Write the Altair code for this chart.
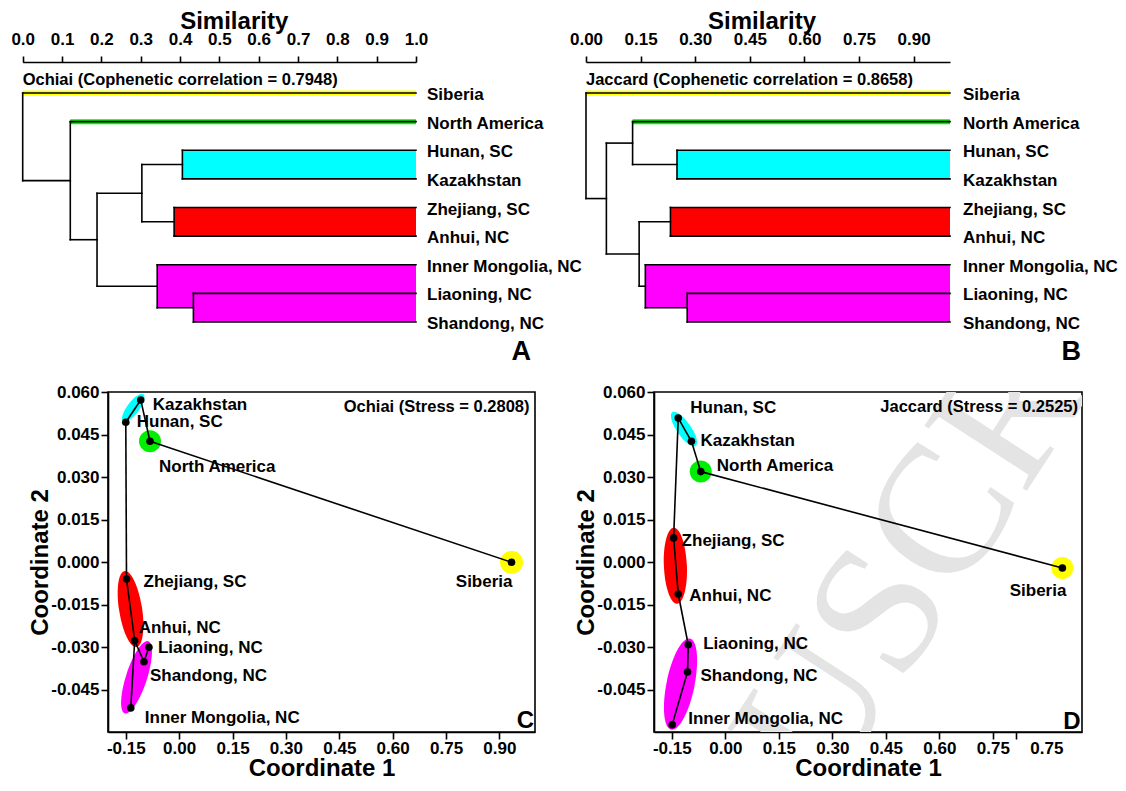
import altair as alt
import pandas as pd

SANS = "Liberation Sans, Arial, sans-serif"
SERIF = "Liberation Serif, Times New Roman, serif"

leaves = ["Siberia", "North America", "Hunan, SC", "Kazakhstan", "Zhejiang, SC",
          "Anhui, NC", "Inner Mongolia, NC", "Liaoning, NC", "Shandong, NC"]

# ---------------- dendrogram merges (similarity levels) ----------------
ochiai_node = ["HK", "ZA", "LS", "IMLS", "HKZA", "CORE", "NAC", "ROOT"]
ochiai_left = ["Hunan, SC", "Zhejiang, SC", "Liaoning, NC", "Inner Mongolia, NC", "HK", "HKZA", "North America", "Siberia"]
ochiai_right = ["Kazakhstan", "Anhui, NC", "Shandong, NC", "LS", "ZA", "IMLS", "CORE", "NAC"]
ochiai_sim = [0.406, 0.385, 0.434, 0.342, 0.303, 0.189, 0.121, 0.0]

jaccard_node = ["HK", "ZA", "LS", "IMLS", "NAHK", "SOUTH", "REST", "ROOT"]
jaccard_left = ["Hunan, SC", "Zhejiang, SC", "Liaoning, NC", "Inner Mongolia, NC", "North America", "ZA", "NAHK", "Siberia"]
jaccard_right = ["Kazakhstan", "Anhui, NC", "Shandong, NC", "LS", "HK", "IMLS", "SOUTH", "REST"]
jaccard_sim = [0.250, 0.232, 0.278, 0.163, 0.128, 0.146, 0.056, 0.0]

cluster_nodes = ["Siberia", "North America", "HK", "ZA", "IMLS"]
cluster_colors = ["#FFFF00", "#00EE00", "#00FFFF", "#FF0000", "#FF00FF"]

ochiai_ticks = [0.0, 0.1, 0.2, 0.3, 0.4, 0.5, 0.6, 0.7, 0.8, 0.9, 1.0]
jaccard_ticks = [0.0, 0.15, 0.30, 0.45, 0.60, 0.75, 0.90]

# ---------------- MDS coordinates (leaf order) ----------------
ochiai_c1 = [0.934, -0.082, -0.150, -0.108, -0.148, -0.125, -0.136, -0.085, -0.099]
ochiai_c2 = [-0.0001, 0.0426, 0.0493, 0.0572, -0.0060, -0.0278, -0.0515, -0.0301, -0.0352]
jaccard_c1 = [0.945, -0.069, -0.132, -0.095, -0.145, -0.132, -0.149, -0.104, -0.106]
jaccard_c2 = [-0.0021, 0.0319, 0.0508, 0.0426, 0.0085, -0.0113, -0.0574, -0.0292, -0.0388]

ochiai_edges = [("Hunan, SC", "Kazakhstan"), ("Kazakhstan", "North America"), ("North America", "Siberia"),
                ("Hunan, SC", "Zhejiang, SC"), ("Zhejiang, SC", "Anhui, NC"), ("Anhui, NC", "Shandong, NC"),
                ("Shandong, NC", "Liaoning, NC"), ("Anhui, NC", "Inner Mongolia, NC")]
jaccard_edges = [("Hunan, SC", "Kazakhstan"), ("Kazakhstan", "North America"), ("North America", "Siberia"),
                 ("Hunan, SC", "Zhejiang, SC"), ("Zhejiang, SC", "Anhui, NC"), ("Anhui, NC", "Liaoning, NC"),
                 ("Liaoning, NC", "Shandong, NC"), ("Shandong, NC", "Inner Mongolia, NC")]

# group ellipse centres (data coords)
ell_colors = ["#00FFFF", "#00EE00", "#FFFF00", "#FF0000", "#FF00FF"]
ochiai_ell_x = [-0.129, -0.082, 0.934, -0.1365, -0.1197]
ochiai_ell_y = [0.0544, 0.0426, -0.0001, -0.0166, -0.0407]
jaccard_ell_x = [-0.116, -0.069, 0.945, -0.140, -0.1255]
jaccard_ell_y = [0.0469, 0.0319, -0.0021, -0.0013, -0.0431]

c_tick_vals = [-0.15, 0.0, 0.15, 0.30, 0.45, 0.60, 0.75, 0.90]
c_tick_text = ["-0.15", "0.00", "0.15", "0.30", "0.45", "0.60", "0.75", "0.90"]
d_tick_vals = [-0.15, 0.0, 0.15, 0.30, 0.45, 0.60, 0.75, 0.816, 0.90]
d_tick_text = ["-0.15", "0.00", "0.15", "0.30", "0.45", "0.60", "0.75", "", "0.75"]
d_tick_mark = [1, 1, 1, 1, 1, 1, 1, 1, 0]
y_tick_vals = [0.060, 0.045, 0.030, 0.015, 0.0, -0.015, -0.030, -0.045]
y_tick_text = ["0.060", "0.045", "0.030", "0.015", "0.000", "-0.015", "-0.030", "-0.045"]

watermark_text = "MANUSCRIPT"

# ---------------- styles ----------------
LAB_SIZE = 17
TICK_SIZE = 17
C_ELL = dict(length=[34, 22, 23, 77, 76], width=[12, 22, 23, 23, 21], angle=[127, 0, 0, 81, 108])
D_ELL = dict(length=[41, 22, 22, 76, 93], width=[14, 22, 22, 23, 28], angle=[55, 0, 0, 87.5, 101.6])
C_LAB = {"Siberia": ("right", 1, 20), "North America": ("left", 9, 26), "Hunan, SC": ("left", 11, 0),
         "Kazakhstan": ("left", 12, 5), "Zhejiang, SC": ("left", 17, 3), "Anhui, NC": ("left", 4, -13),
         "Inner Mongolia, NC": ("left", 14, 10), "Liaoning, NC": ("left", 9, 1), "Shandong, NC": ("left", 6, 14)}
D_LAB = {"Siberia": ("right", 4, 23), "North America": ("left", 16, -6), "Hunan, SC": ("left", 12, -10),
         "Kazakhstan": ("left", 9, 0), "Zhejiang, SC": ("left", 8, 3), "Anhui, NC": ("left", 11, 2),
         "Inner Mongolia, NC": ("left", 16, -6), "Liaoning, NC": ("left", 15, -1), "Shandong, NC": ("left", 13, 4)}

dummy = pd.DataFrame({"d": [0]})


def spacer(x0, y0, y1):
    return alt.Chart(dummy).mark_rect(opacity=0).encode(
        x=alt.value(x0), x2=alt.value(0), y=alt.value(y0), y2=alt.value(y1))


def dendro_frames(node, left, right, sim):
    pos = {n: (float(i), 1.0) for i, n in enumerate(leaves)}
    kids = {}
    parent = {}
    segs = []
    for n, l, r, s in zip(node, left, right, sim):
        yl, xl = pos[l]
        yr, xr = pos[r]
        segs += [dict(x=s, x2=s, y=yl, y2=yr), dict(x=s, x2=xl, y=yl, y2=yl), dict(x=s, x2=xr, y=yr, y2=yr)]
        pos[n] = ((yl + yr) / 2, s)
        kids[n] = (l, r)
        parent[l] = s
        parent[r] = s

    def internal(n):
        if n not in kids:
            return []
        return [n] + internal(kids[n][0]) + internal(kids[n][1])

    rects, bands = [], []
    for cn, col in zip(cluster_nodes, cluster_colors):
        if cn in leaves:
            bands.append(dict(x=parent[cn], x2=1.0, y=pos[cn][0], col=col))
        else:
            for m in internal(cn):
                l, r = kids[m]
                rects.append(dict(x=pos[m][1], x2=1.0, y=pos[l][0], y2=pos[r][0], col=col))
    return pd.DataFrame(segs), pd.DataFrame(rects), pd.DataFrame(bands)


def dendro_chart(node, left, right, sim, ticks, fmt, width, xrange, title_x, note, letter, letter_x,
                 label_dx, extra=None):
    segs, rects, bands = dendro_frames(node, left, right, sim)
    xsc = alt.Scale(domain=[0, 1], range=xrange, nice=False, zero=False)
    ysc = alt.Scale(domain=[-1.083, 8.419], reverse=True, nice=False, zero=False)
    ax = alt.Axis(orient="top", values=ticks, format=fmt, title="Similarity", tickSize=6, labelPadding=8,
                  titleX=title_x, titleY=-33.5, titleBaseline="alphabetic", titleAlign="center", titleAngle=0)

    def X(f):
        return alt.X(f + ":Q", scale=xsc, axis=ax)

    def Y(f):
        return alt.Y(f + ":Q", scale=ysc, axis=None)

    rect = alt.Chart(rects).mark_rect().encode(x=X("x"), x2="x2:Q", y=Y("y"), y2="y2:Q",
                                               color=alt.Color("col:N", scale=None))
    band = alt.Chart(bands).mark_rule(strokeWidth=5).encode(x=X("x"), x2="x2:Q", y=Y("y"),
                                                            color=alt.Color("col:N", scale=None))
    seg = alt.Chart(segs).mark_rule(color="black", strokeWidth=1.6, strokeCap="square").encode(
        x=X("x"), x2="x2:Q", y=Y("y"), y2="y2:Q")
    lab = alt.Chart(pd.DataFrame({"name": leaves, "y": list(range(len(leaves))), "x": [1.0] * len(leaves)})).mark_text(
        align="left", baseline="middle", dx=label_dx, dy=2, font=SANS, fontSize=LAB_SIZE, fontWeight="bold",
        color="black").encode(x=X("x"), y=Y("y"), text="name:N")
    note_l = alt.Chart(dummy).mark_text(text=note, align="left", baseline="middle", font=SANS, fontSize=16.5,
                                        fontWeight="bold", color="black").encode(x=alt.value(xrange[0]), y=alt.value(18))
    let_l = alt.Chart(dummy).mark_text(text=letter, align="right", baseline="alphabetic", font=SANS, fontSize=27,
                                       fontWeight="bold", color="black").encode(x=alt.value(letter_x), y=alt.value(298))
    layers = [rect, band, seg, lab, note_l, let_l]
    if extra is not None:
        layers.append(extra)
    return alt.layer(*layers).properties(width=width, height=272)


def ellipse_path(ratio):
    k = 0.5523
    r = ratio
    return (f"M 1 0 C 1 {k*r:.4f} {k:.4f} {r:.4f} 0 {r:.4f} "
            f"C {-k:.4f} {r:.4f} -1 {k*r:.4f} -1 0 "
            f"C -1 {-k*r:.4f} {-k:.4f} {-r:.4f} 0 {-r:.4f} "
            f"C {k:.4f} {-r:.4f} 1 {-k*r:.4f} 1 0 Z")


def lookup_expr(vals, texts):
    return "".join(f"abs(datum.value - ({v})) < 1e-6 ? '{t}' : " for v, t in zip(vals, texts)) + "''"


def mds_chart(c1, c2, edges, ex, ey, est, lab_style, note, note_x, letter, letter_x, letter_y,
              tvals, ttext, tmark, width, extra=None, under=None):
    xy = dict(zip(leaves, zip(c1, c2)))
    pts = pd.DataFrame({"name": leaves, "x": c1, "y": c2})
    segs = pd.DataFrame([dict(x=xy[a][0], y=xy[a][1], x2=xy[b][0], y2=xy[b][1]) for a, b in edges])
    ell = pd.DataFrame({"x": ex, "y": ey, "col": ell_colors,
                        "shape": [ellipse_path(w / l) for l, w in zip(est["length"], est["width"])],
                        "sz": [l * l for l in est["length"]], "ang": est["angle"]})
    xkw = dict(values=tvals, labelExpr=lookup_expr(tvals, ttext), title="Coordinate 1", tickSize=7,
               labelPadding=1, titleX=width / 2, titleY=43, titleBaseline="alphabetic", titleAlign="center")
    hidden = [v for v, m in zip(tvals, tmark) if not m]
    if hidden:
        test = " || ".join(f"abs(datum.value - ({v})) < 1e-6" for v in hidden)
        xkw["tickOpacity"] = {"condition": {"test": test, "value": 0}, "value": 1}
    xax = alt.Axis(**xkw)
    yax = alt.Axis(values=y_tick_vals, labelExpr=lookup_expr(y_tick_vals, y_tick_text), title="Coordinate 2",
                   tickSize=7, labelPadding=2, titleX=-67.5, titleY=170, titleAngle=270,
                   titleBaseline="middle", titleAlign="center")
    xsc = alt.Scale(domain=[-0.2, 1.0], nice=False, zero=False)
    ysc = alt.Scale(domain=[-0.06, 0.06], nice=False, zero=False)

    def X(f):
        return alt.X(f + ":Q", scale=xsc, axis=xax)

    def Y(f):
        return alt.Y(f + ":Q", scale=ysc, axis=yax)

    e_l = alt.Chart(ell).mark_point(filled=True, opacity=1, strokeWidth=0).encode(
        x=X("x"), y=Y("y"), shape=alt.Shape("shape:N", scale=None), size=alt.Size("sz:Q", scale=None),
        angle=alt.Angle("ang:Q", scale=None), color=alt.Color("col:N", scale=None))
    s_l = alt.Chart(segs).mark_rule(color="black", strokeWidth=1.6).encode(x=X("x"), y=Y("y"), x2="x2:Q", y2="y2:Q")
    p_l = alt.Chart(pts).mark_circle(size=58, color="black", opacity=1).encode(x=X("x"), y=Y("y"))
    layers = ([under] if under is not None else []) + [e_l, s_l, p_l]
    for name in leaves:
        al, dx, dy = lab_style[name]
        layers.append(alt.Chart(pts).transform_filter(alt.datum.name == name).mark_text(
            align=al, baseline="middle", dx=dx, dy=dy, font=SANS, fontSize=LAB_SIZE, fontWeight="bold",
            color="black").encode(x=X("x"), y=Y("y"), text="name:N"))
    layers.append(alt.Chart(dummy).mark_text(text=note, align="right", baseline="middle", font=SANS, fontSize=16.5,
                                             fontWeight="bold", color="black").encode(x=alt.value(note_x), y=alt.value(15)))
    layers.append(alt.Chart(dummy).mark_text(text=letter, align="right", baseline="alphabetic", font=SANS,
                                             fontSize=24, fontWeight="bold", color="black").encode(
        x=alt.value(letter_x), y=alt.value(letter_y)))
    if extra is not None:
        layers.append(extra)
    return alt.layer(*layers).properties(
        width=width, height=340,
        view=alt.ViewBackground(stroke="black", strokeWidth=1.6, strokeOpacity=1))


watermark = alt.Chart(dummy).mark_text(
    text=watermark_text, align="left", baseline="alphabetic", font=SERIF, fontSize=185, angle=303,
    color="#e4e4e4", clip=True).encode(x=alt.value(-62), y=alt.value(768))

chart_a = dendro_chart(ochiai_node, ochiai_left, ochiai_right, ochiai_sim, ochiai_ticks, ".1f", 308, [-85.3, 308],
                       125.7, "Ochiai (Cophenetic correlation = 0.7948)", "A", 423, 11,
                       extra=spacer(-90, -54, 306))
chart_b = dendro_chart(jaccard_node, jaccard_left, jaccard_right, jaccard_sim, jaccard_ticks, ".2f", 364, [0, 364],
                       175.6, "Jaccard (Cophenetic correlation = 0.8658)", "B", 495, 13)
chart_c = mds_chart(ochiai_c1, ochiai_c2, ochiai_edges, ochiai_ell_x, ochiai_ell_y, C_ELL, C_LAB,
                    "Ochiai (Stress = 0.2808)", 421.5, "C", 426, 336, c_tick_vals, c_tick_text,
                    [1] * len(c_tick_vals), 427, extra=spacer(-99, -15, 0))
chart_d = mds_chart(jaccard_c1, jaccard_c2, jaccard_edges, jaccard_ell_x, jaccard_ell_y, D_ELL, D_LAB,
                    "Jaccard (Stress = 0.2525)", 424, "D", 426.5, 337, d_tick_vals, d_tick_text,
                    d_tick_mark, 428, under=watermark)

top = alt.hconcat(chart_a, chart_b, spacing=170, bounds="flush")
bottom = alt.hconcat(chart_c, chart_d, spacing=119, bounds="flush")

chart = alt.vconcat(top, bottom, spacing=8).properties(
    padding=0, background="white"
).configure_view(strokeOpacity=0).configure_axis(
    labelFont=SANS, labelFontSize=TICK_SIZE, labelFontWeight="bold", labelColor="black",
    titleFont=SANS, titleFontSize=24, titleFontWeight="bold", titleColor="black",
    domainColor="black", domainWidth=1.6, tickColor="black", tickWidth=1.6, grid=False,
    labelOverlap=False, labelFlush=False, labelBound=False
)

chart.save("out.html", embed_options={"renderer": "svg", "actions": False})
